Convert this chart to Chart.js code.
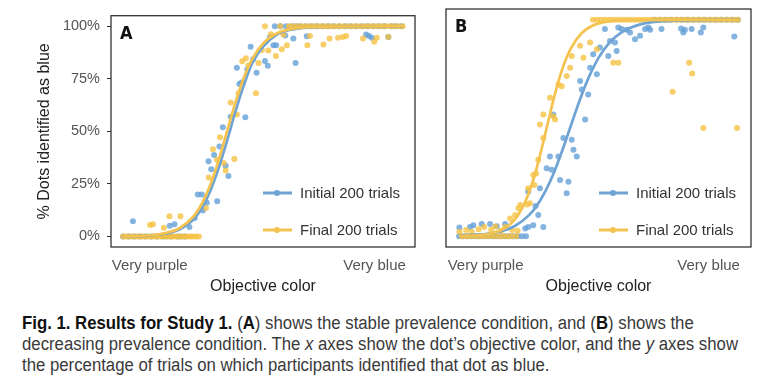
<!DOCTYPE html>
<html>
<head>
<meta charset="utf-8">
<script src="https://cdn.jsdelivr.net/npm/chart.js@4.4.1/dist/chart.umd.min.js"></script>
<style>
body { margin: 0; background: #fff; width: 773px; height: 392px; position: relative; overflow: hidden; }
#chartA { position: absolute; left: 0; top: 0; }
#chartB { position: absolute; left: 420px; top: 0; }
#caption { position: absolute; left: 22px; top: 313px; white-space: nowrap; transform-origin: 0 0;
  font-family: "Liberation Sans", Arial, sans-serif;
  font-size: 18px; line-height: 21px; color: #3a3a3a; }
#caption span { display: block; width: max-content; }
#caption b { color: #111; }
</style>
</head>
<body>
<canvas id="chartA" width="420" height="300"></canvas>
<canvas id="chartB" width="353" height="300"></canvas>
<div id="caption"><span><b>Fig. 1. Results for Study 1.</b> (<b>A</b>) shows the stable prevalence condition, and (<b>B</b>) shows the</span><span id="capLine2">decreasing prevalence condition. The <i>x</i> axes show the dot’s objective color, and the <i>y</i> axes show</span><span>the percentage of trials on which participants identified that dot as blue.</span></div>
<script>
// x: 0 = most purple dot, 100 = most blue dot; y: % identified as blue
const seriesNames = ["Initial 200 trials", "Final 200 trials"];
const xTickValues = [9.5, 89.5];
const xTickLabels = ["Very purple", "Very blue"];
const yTickValues = [0, 25, 50, 75, 100];

// panel A - stable prevalence
const aInitialPoints = [
  [0,0],[2,0],[4,0],[6,0],[8,0],[10,0],[12,0],[14,0],[15.3,0],[17,0],[19.5,0],[20.6,0],[22,0],
  [3.5,7.2],[16.6,5.1],[18.3,5.8],[23.6,4.5],[25.5,8.8],[26.6,20],[28,20],[28.4,12.4],[29.8,16],
  [33.5,16.7],[30.4,35.8],[31.4,32],[32.4,38.7],[34.3,42.8],[35.5,52],[36.5,33.6],[37.5,28.8],
  [38.3,57],[40.5,80.2],[41.4,72.5],[42.2,73.2],[43.5,56.7],[44.2,79.4],[45.4,90.2],[46.3,84.3],
  [47.5,77.9],[50.5,83.5],[51.5,81.2],[52.3,94.9],[53.5,91],[54.5,91],[57.7,95.6],[60.6,94.1],
  [61.4,82.5],[65.4,95.2],[86.5,96],[87.5,95.4],[88.5,94.5],[94.4,94.9],
  [54,100],[56,100],[58,100],[60,100],[61.5,100],[63,100],[65,100],[67,100],[69,100],[71,100],
  [73,100],[75,100],[77,100],[79,100],[81,100],[83,100],[85,100],[87,100],[89,100],[91,100],
  [93,100],[95.5,100],[97,100],[99,100]
];
const aFinalPoints = [
  [0,0],[1,0],[2,0],[3,0],[4,0],[5,0],[6,0],[7,0],[8,0],[9,0],[10,0],[11,0],[12,0],[13,0],
  [14,0],[15,0],[16,0],[17,0],[18,0],[19,0],[20,0],[21,0],[22,0],[23,0],[24,0],[25,0],[26,0],[27,0],
  [9.6,5.5],[10.6,5.8],[14.5,4.2],[16.5,9.6],[20.4,9.6],[29.5,13.6],[30.5,28],[32,41.5],[33.4,36.5],
  [34.5,47.2],[35.8,35],[36.5,31.4],[38.3,63.7],[39.6,36.8],[40.5,58],[41.1,68.1],[42.4,83.3],
  [43.7,84.8],[44.6,81.3],[47.3,68.1],[48.2,82.5],[49.4,88.7],[50.5,100],[51.7,88.5],[52.6,96.2],
  [54.4,85.8],[55.9,100],[56.5,89],[57,96],[58.3,91],[65.6,91],[66.5,95.3],[71.3,91.3],[73.5,94.1],
  [76.5,94.5],[78.2,94.9],[79.4,95.4],[85.4,94.1],[89.4,92.6],[90.3,94.5],[94.4,94.9],
  [59,100],[60.5,100],[62,100],[63.5,100],[65,100],[66.5,100],[68,100],[69.5,100],[71,100],
  [72.5,100],[74,100],[75.5,100],[77,100],[78.5,100],[80,100],[81.5,100],[83,100],[84.5,100],
  [86,100],[87.5,100],[89,100],[90.5,100],[92,100],[93.5,100],[95,100],[96.5,100],[98,100],[99.5,100]
];
const aInitialCurve = [
  [0,0.1],[10,0.5],[15,1.3],[20,3.3],[25,8],[28,13.4],[31,21.5],[34,32.5],[37,45.5],[40,59.5],
  [43,72],[46,82.5],[50,90.5],[55,96.2],[60,98.4],[70,99.7],[100,100]
];
const aFinalCurve = [
  [0,0.1],[10,0.6],[15,1.6],[20,3.9],[25,9.4],[28,15.5],[31,24.4],[34,36.2],[37,50],[40,63.8],
  [43,75.6],[46,84.5],[50,92],[55,96.8],[60,98.7],[70,99.8],[100,100]
];

// panel B - decreasing prevalence
const bInitialPoints = [
  [0,0],[1.5,0],[3,0],[4.5,0],[6,0],[7.5,0],[9,0],[10.5,0],[12,0],[13.5,0],[15,0],[16.5,0],
  [18,0],[19.5,0],[21,0],[22.5,0],[24,0],
  [0.1,4],[3.9,4.3],[5.1,5.1],[8.1,5.6],[11.1,5.6],[13.5,4.6],[16.5,5.6],[23.7,3.6],[24.8,4.3],
  [30.2,4.3],[26.6,5.1],[28.4,9.8],[27.4,14],[24.8,20.6],[29,22.2],[31.4,31.4],[33.2,30.7],
  [32.6,36.8],[35.6,36.8],[33.8,56.2],[36.2,26],[38.6,19.8],[39.2,25.2],[37.4,45.4],[40.4,44.6],
  [41,39.9],[42.2,36.8],[45.2,53.9],[43.4,71.7],[44,67.8],[46.3,65.5],[47,77.9],[49.4,74.8],
  [48.1,84.1],[50.5,87.2],[53.5,83.3],[55.9,89.5],[52.3,95.7],[54.1,90.2],[56.5,85.6],[57.1,96.5],
  [58.3,95.7],[60.1,95.4],[61.3,94.1],[63.1,91],[64.9,92.6],[66.7,95.7],[67.9,96.5],[68.5,95.4],
  [72.6,95.7],[79.6,96],[80.4,94.1],[81,95.4],[83.4,95.7],[86.7,94.1],[87.6,96.5],[98.7,92.3],
  [70,100],[72,100],[74,100],[76,100],[78,100],[80,100],[82,100],[84,100],[86,100],[88,100],
  [90,100],[92,100],[94,100],[96,100],[98,100],[100,100]
];
const bFinalPoints = [
  [1,0],[2.5,0],[4,0],[5.5,0],[7,0],[8.5,0],[10,0],[11.5,0],[13,0],[14.5,0],[16,0],[17.5,0],[19,0],[20.5,0],
  [0.1,2],[2.5,2.8],[4.5,2],[7,3.2],[9,4.3],[11.5,3],[13,4.5],[15,2.5],[16.5,4.3],[19,2.8],[21,2.5],
  [18.3,8.2],[20.1,9.8],[21.3,12.9],[21.9,14.4],[24.3,14.7],[25.4,15.2],[24.8,22.2],[27,23.7],
  [26.6,28.3],[27.6,29],[28.4,35.3],[29,51.6],[30.2,45.4],[30.2,56.2],[32.6,64],[33.8,55.4],
  [34.4,53.9],[35.6,70.1],[36.8,69.3],[38.6,74],[39.8,77.9],[40.4,83.3],[43.4,88],[44.6,82.5],
  [47,89.5],[49.4,86.4],[55.3,80.2],[57.1,80.2],[76.6,66.7],[82.5,80.2],[83.6,75.2],[87.6,50],[99.7,50],
  [48,100],[49.5,100],[51,100],[52.5,100],[54,100],[55.5,100],[57,100],[58.5,100],[60,100],
  [61.5,100],[63,100],[64.5,100],[66,100],[67.5,100],[69,100],[70.5,100],[72,100],[73.5,100],
  [75,100],[76.5,100],[78,100],[79.5,100],[81,100],[82.5,100],[84,100],[85.5,100],[87,100],
  [88.5,100],[90,100],[91.5,100],[93,100],[94.5,100],[96,100],[97.5,100],[99,100],[100,100]
];
const bInitialCurve = [
  [0,0.2],[10,1.1],[15,2.3],[20,4.7],[25,9.6],[28,14.3],[31,20.9],[34,29.3],[37,39.6],[39.8,50],
  [43,61.9],[46,71.9],[50,82.4],[54,89.6],[58,94],[65,97.9],[75,99.5],[100,100]
];
const bFinalCurve = [
  [0,0.1],[10,0.9],[15,2.7],[18,5.2],[21,9.4],[24,16.7],[27,27.7],[29,37.3],[31.4,50],[34,63.8],
  [37,77.2],[40,86.6],[44,93.9],[48,97.4],[52,98.9],[60,99.8],[100,100]
];

const blueDot = "rgba(96,158,214,0.78)";
const yellowDot = "rgba(246,192,62,0.78)";
const blueLine = "#6fa3d3";
const yellowLine = "#f4c24f";

const toXY = pts => pts.map(p => ({ x: p[0], y: p[1] }));

// squeeze the caption to the condensed width of the original
const cap = document.getElementById("caption");
const line2 = document.getElementById("capLine2");
cap.style.transform = "scaleX(" + (716 / line2.getBoundingClientRect().width) + ")";

const panelPlugin = {
  id: "panel",
  afterDatasetsDraw(chart, args, opts) {
    const { ctx, chartArea: a } = chart;
    ctx.save();
    ctx.strokeStyle = "#333";
    ctx.lineWidth = 1.3;
    ctx.strokeRect(a.left, a.top, a.right - a.left, a.bottom - a.top);
    ctx.fillStyle = "#111";
    ctx.font = 'bold 18px "DejaVu Sans Condensed", "Liberation Sans", sans-serif';
    ctx.textBaseline = "alphabetic";
    ctx.textAlign = "left";
    ctx.fillText(opts.label, a.left + 9, a.top + 23);
    // legend
    const cols = [blueLine, yellowLine];
    const rowsY = [a.bottom - 54, a.bottom - 17];
    ctx.font = '15px "Liberation Sans", Arial, sans-serif';
    ctx.textBaseline = "middle";
    seriesNames.forEach((name, i) => {
      const y = rowsY[i];
      ctx.strokeStyle = cols[i];
      ctx.lineWidth = 3;
      ctx.beginPath();
      ctx.moveTo(a.right - 152, y);
      ctx.lineTo(a.right - 123, y);
      ctx.stroke();
      ctx.fillStyle = cols[i];
      ctx.beginPath();
      ctx.arc(a.right - 138, y, 3, 0, Math.PI * 2);
      ctx.fill();
      ctx.fillStyle = "#333";
      ctx.fillText(name, a.right - 115, y + 1);
    });
    ctx.restore();
  }
};

function makePanel(id, label, initPts, finalPts, initCurve, finalCurve, xMin, xMax, showY, pad) {
  return new Chart(document.getElementById(id), {
    type: "line",
    data: {
      datasets: [
        { label: seriesNames[1] + " fit", data: toXY(finalCurve), borderColor: yellowLine, borderWidth: 2.7,
          pointRadius: 0, cubicInterpolationMode: "monotone", order: 0 },
        { label: seriesNames[0] + " fit", data: toXY(initCurve), borderColor: blueLine, borderWidth: 2.7,
          pointRadius: 0, cubicInterpolationMode: "monotone", order: 1 },
        { label: seriesNames[1], data: toXY(finalPts), showLine: false, pointRadius: 3,
          pointBorderWidth: 0, pointBackgroundColor: yellowDot, order: 2 },
        { label: seriesNames[0], data: toXY(initPts), showLine: false, pointRadius: 3,
          pointBorderWidth: 0, pointBackgroundColor: blueDot, order: 3 }
      ]
    },
    options: {
      responsive: false,
      animation: false,
      layout: { padding: pad },
      plugins: { legend: { display: false }, tooltip: { enabled: false }, panel: { label } },
      scales: {
        x: {
          type: "linear", min: xMin, max: xMax,
          grid: { display: false }, border: { display: false },
          afterBuildTicks: s => { s.ticks = xTickValues.map(v => ({ value: v })); },
          afterFit: s => { s.height = 53; },
          ticks: { autoSkip: false, maxRotation: 0, padding: 2, color: "#555",
            font: { family: '"Liberation Sans", Arial, sans-serif', size: 15 },
            callback: v => xTickLabels[xTickValues.indexOf(v)] },
          title: { display: true, text: "Objective color", color: "#222", padding: { top: 0, bottom: 4 },
            font: { family: '"Liberation Sans", Arial, sans-serif', size: 16 } }
        },
        y: {
          display: showY, min: -5, max: 105,
          grid: { drawOnChartArea: false, drawTicks: true, tickLength: 4, color: "#333" },
          border: { display: false },
          afterBuildTicks: s => { s.ticks = yTickValues.map(v => ({ value: v })); },
          afterFit: s => { s.width = showY ? 111 : 0; },
          ticks: { padding: 7, color: "#555", font: { family: '"Liberation Sans", Arial, sans-serif', size: 14.5 },
            callback: v => v + "%" },
          title: { display: true, text: "% Dots identified as blue", color: "#222", padding: { top: 35, bottom: 0 },
            font: { family: '"Liberation Sans", Arial, sans-serif', size: 16 } }
        }
      }
    },
    plugins: [panelPlugin]
  });
}

makePanel("chartA", "A", aInitialPoints, aFinalPoints, aInitialCurve, aFinalCurve, -4.3, 103.9, true,
  { top: 10, right: 5, left: 0, bottom: 0 });
makePanel("chartB", "B", bInitialPoints, bFinalPoints, bInitialCurve, bFinalCurve, -4.7, 104.7, false,
  { top: 9, right: 22, left: 26, bottom: 0 });
</script>
</body>
</html>
